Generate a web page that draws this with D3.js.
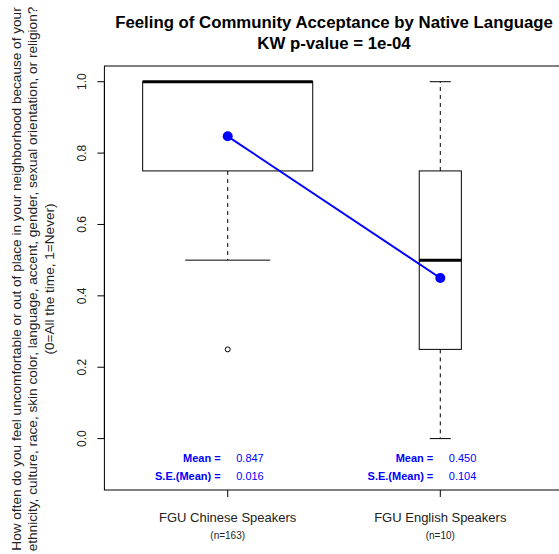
<!DOCTYPE html>
<html>
<head>
<meta charset="utf-8">
<script src="https://cdn.jsdelivr.net/npm/d3@7"></script>
<style>
  html, body { margin: 0; padding: 0; background: #fff; }
  text { font-family: "Liberation Sans", Arial, sans-serif; }
</style>
</head>
<body>
<svg id="chart" width="559" height="554"></svg>
<script>
// ---- data ----
const categories = ["FGU Chinese Speakers", "FGU English Speakers"];
const nLabels = ["(n=163)", "(n=10)"];
const counts = [163, 10];
const whiskerLow = [0.5, 0.0];
const q1 = [0.75, 0.25];
const median = [1.0, 0.5];
const q3 = [1.0, 0.75];
const whiskerHigh = [1.0, 1.0];
const outliers = [[0.25], []];
const means = [0.847, 0.450];
const seMeans = [0.016, 0.104];
const yTicks = [0.0, 0.2, 0.4, 0.6, 0.8, 1.0];
const titleLines = ["Feeling of Community Acceptance by Native Language", "KW p-value = 1e-04"];
const yTitleLines = [
  "How often do you feel uncomfortable or out of place in your neighborhood because of your",
  "ethnicity, culture, race, skin color, language, accent, gender, sexual orientation, or religion?",
  "(0=All the time, 1=Never)"
];

// ---- layout ----
const svg = d3.select("#chart");
const pLeft = 104.4, pRight = 563.6, pTop = 66, pBottom = 490;
const x = d3.scaleLinear().domain([0.42, 2.58]).range([pLeft, pRight]);
const y = d3.scaleLinear().domain([-0.144, 1.044]).range([pBottom, pTop]);
const unit = x(2) - x(1);
const nMax = d3.max(counts);
const blue = "#0000ff";

// plot frame
svg.append("rect").attr("x", pLeft).attr("y", pTop)
  .attr("width", pRight - pLeft).attr("height", pBottom - pTop)
  .attr("fill", "none").attr("stroke", "#000").attr("stroke-width", 1);

// y axis
const yAxisG = svg.append("g").attr("transform", `translate(${pLeft},0)`);
yAxisG.selectAll("line.tick").data(yTicks).enter().append("line")
  .attr("x1", 0).attr("x2", -7).attr("y1", d => y(d)).attr("y2", d => y(d))
  .attr("stroke", "#000");
yAxisG.append("line").attr("x1", 0).attr("x2", 0)
  .attr("y1", y(yTicks[0])).attr("y2", y(yTicks[yTicks.length - 1])).attr("stroke", "#000");
yAxisG.selectAll("text.tl").data(yTicks).enter().append("text")
  .attr("transform", d => `translate(-18,${y(d)}) rotate(-90)`)
  .attr("text-anchor", "middle").attr("font-size", 12).attr("fill", "#222")
  .text(d => d.toFixed(1));

// x axis
const xs = categories.map((c, i) => i + 1);
svg.selectAll("line.xt").data(xs).enter().append("line")
  .attr("x1", d => x(d)).attr("x2", d => x(d)).attr("y1", pBottom).attr("y2", pBottom + 7)
  .attr("stroke", "#000");
svg.selectAll("text.xl").data(categories).enter().append("text")
  .attr("x", (d, i) => x(i + 1)).attr("y", 521.5)
  .attr("text-anchor", "middle").attr("font-size", 13).attr("fill", "#222")
  .text(d => d);
svg.selectAll("text.xn").data(nLabels).enter().append("text")
  .attr("x", (d, i) => x(i + 1)).attr("y", 538.5)
  .attr("text-anchor", "middle").attr("font-size", 10).attr("fill", "#222")
  .text(d => d);

// boxes
categories.forEach((c, i) => {
  const cx = x(i + 1);
  const bw = 0.8 * unit * Math.sqrt(counts[i] / nMax);
  const g = svg.append("g");
  g.append("line").attr("x1", cx).attr("x2", cx)
    .attr("y1", y(q1[i])).attr("y2", y(whiskerLow[i]))
    .attr("stroke", "#000").attr("stroke-dasharray", "4,4");
  g.append("line").attr("x1", cx).attr("x2", cx)
    .attr("y1", y(q3[i])).attr("y2", y(whiskerHigh[i]))
    .attr("stroke", "#000").attr("stroke-dasharray", "4,4");
  [whiskerLow[i], whiskerHigh[i]].forEach(v => {
    g.append("line").attr("x1", cx - bw / 4).attr("x2", cx + bw / 4)
      .attr("y1", y(v)).attr("y2", y(v)).attr("stroke", "#000");
  });
  g.append("rect").attr("x", cx - bw / 2).attr("y", y(q3[i]))
    .attr("width", bw).attr("height", y(q1[i]) - y(q3[i]))
    .attr("fill", "none").attr("stroke", "#000");
  g.append("line").attr("x1", cx - bw / 2).attr("x2", cx + bw / 2)
    .attr("y1", y(median[i])).attr("y2", y(median[i]))
    .attr("stroke", "#000").attr("stroke-width", 3);
  outliers[i].forEach(v => {
    g.append("circle").attr("cx", cx).attr("cy", y(v)).attr("r", 2.5)
      .attr("fill", "none").attr("stroke", "#000");
  });
});

// mean line + points
const line = d3.line().x((d, i) => x(i + 1)).y(d => y(d));
svg.append("path").datum(means).attr("d", line)
  .attr("fill", "none").attr("stroke", blue).attr("stroke-width", 2);
svg.selectAll("circle.mean").data(means).enter().append("circle")
  .attr("cx", (d, i) => x(i + 1)).attr("cy", d => y(d)).attr("r", 5)
  .attr("fill", blue);

// mean / se text
categories.forEach((c, i) => {
  const cx = x(i + 1);
  svg.append("text").attr("x", cx - 7).attr("y", 462).attr("text-anchor", "end")
    .attr("font-size", 11).attr("font-weight", "bold").attr("fill", blue).text("Mean =");
  svg.append("text").attr("x", cx + 8.5).attr("y", 462).attr("text-anchor", "start")
    .attr("font-size", 11).attr("fill", blue).text(means[i].toFixed(3));
  svg.append("text").attr("x", cx - 7).attr("y", 480).attr("text-anchor", "end")
    .attr("font-size", 11).attr("font-weight", "bold").attr("fill", blue).text("S.E.(Mean) =");
  svg.append("text").attr("x", cx + 8.5).attr("y", 480).attr("text-anchor", "start")
    .attr("font-size", 11).attr("fill", blue).text(seMeans[i].toFixed(3));
});

// title
const midX = (pLeft + pRight) / 2;
svg.append("text").attr("x", midX).attr("y", 28).attr("text-anchor", "middle")
  .attr("font-size", 16.8).attr("font-weight", "bold").text(titleLines[0]);
svg.append("text").attr("x", midX).attr("y", 49).attr("text-anchor", "middle")
  .attr("font-size", 16.8).attr("font-weight", "bold").text(titleLines[1]);

// y title
const midY = 279;
const yTitleX = [21, 37, 54];
const yTitleSize = [13.6, 13.6, 13.6];
yTitleLines.forEach((t, k) => {
  svg.append("text").attr("transform", `translate(${yTitleX[k]},${midY}) rotate(-90)`)
    .attr("text-anchor", "middle").attr("font-size", yTitleSize[k]).attr("fill", "#222")
    .text(t);
});
</script>
</body>
</html>
